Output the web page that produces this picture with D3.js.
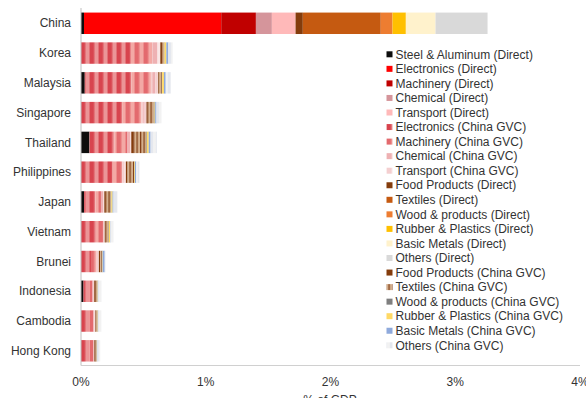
<!DOCTYPE html>
<html><head><meta charset="utf-8">
<script src="https://cdn.jsdelivr.net/npm/d3@7"></script>
<style>
html,body{margin:0;padding:0;background:#fff;}
svg{display:block;font-family:"Liberation Sans",Arial,sans-serif;}
</style></head>
<body><svg id="c" width="586" height="398"></svg>
<script>
// ---------- data (% of GDP) ----------
const categories = ["China","Korea","Malaysia","Singapore","Thailand","Philippines","Japan","Vietnam","Brunei","Indonesia","Cambodia","Hong Kong"];
const xTicks = [0,1,2,3,4];
const seriesNames = [
  "Steel & Aluminum (Direct)","Electronics (Direct)","Machinery (Direct)","Chemical (Direct)","Transport (Direct)",
  "Electronics (China GVC)","Machinery (China GVC)","Chemical (China GVC)","Transport (China GVC)",
  "Food Products (Direct)","Textiles (Direct)","Wood & products (Direct)","Rubber & Plastics (Direct)","Basic Metals (Direct)","Others (Direct)",
  "Food Products (China GVC)","Textiles (China GVC)","Wood & products (China GVC)","Rubber & Plastics (China GVC)","Basic Metals (China GVC)","Others (China GVC)"
];
//                      CN     KR     MY     SG     TH     PH     JP     VN     BN     ID     KH     HK
const steelDirect    = [0.024, 0,     0.030, 0,     0.068, 0,     0.025, 0,     0,     0.020, 0,     0];
const elecDirect     = [1.100, 0,0,0,0,0,0,0,0,0,0,0];
const machDirect     = [0.278, 0,0,0,0,0,0,0,0,0,0,0];
const chemDirect     = [0.128, 0,0,0,0,0,0,0,0,0,0,0];
const transDirect    = [0.190, 0,0,0,0,0,0,0,0,0,0,0];
const elecGVC        = [0,     0.400, 0.375, 0.330, 0.200, 0.250, 0.090, 0.120, 0.080, 0.045, 0.065, 0.068];
const machGVC        = [0,     0.170, 0.155, 0.155, 0.105, 0.080, 0.045, 0.058, 0.045, 0.027, 0.034, 0.031];
const chemGVC        = [0,     0.040, 0.035, 0.025, 0.020, 0.020, 0.017, 0.008, 0.012, 0.009, 0.009, 0.005];
const transGVC       = [0,     0.024, 0.022, 0.015, 0.010, 0.010, 0.010, 0.004, 0.006, 0.005, 0.005, 0.003];
const foodDirect     = [0.058, 0,0,0,0,0,0,0,0,0,0,0];
const textDirect     = [0.625, 0,0,0,0,0,0,0,0,0,0,0];
const woodDirect     = [0.094, 0,0,0,0,0,0,0,0,0,0,0];
const rubberDirect   = [0.107, 0,0,0,0,0,0,0,0,0,0,0];
const metalsDirect   = [0.238, 0,0,0,0,0,0,0,0,0,0,0];
const othersDirect   = [0.417, 0,0,0,0,0,0,0,0,0,0,0];
const foodGVC        = [0,     0.006, 0.006, 0.010, 0.015, 0.010, 0.012, 0.008, 0.010, 0.006, 0.004, 0.008];
const textGVC        = [0,     0.026, 0.024, 0.050, 0.105, 0.055, 0.040, 0.022, 0.015, 0.018, 0.015, 0.010];
const woodGVC        = [0,     0.003, 0.003, 0.005, 0.005, 0.003, 0.004, 0.003, 0.003, 0.002, 0.002, 0.002];
const rubberGVC      = [0,     0.015, 0.015, 0.005, 0.015, 0.005, 0.010, 0.010, 0.003, 0.003, 0.002, 0.002];
const metalsGVC      = [0,     0.016, 0.014, 0.010, 0.015, 0.010, 0.008, 0.003, 0.016, 0.004, 0.003, 0.003];
const othersGVC      = [0,     0.035, 0.040, 0.040, 0.050, 0.025, 0.032, 0.024, 0.008, 0.025, 0.024, 0.022];

const seriesValues = [steelDirect,elecDirect,machDirect,chemDirect,transDirect,
  elecGVC,machGVC,chemGVC,transGVC,
  foodDirect,textDirect,woodDirect,rubberDirect,metalsDirect,othersDirect,
  foodGVC,textGVC,woodGVC,rubberGVC,metalsGVC,othersGVC];

// ---------- styles ----------
const solid = ["#0d0d0d","#ff0000","#c00000","#d5959b","#ffb9b9",
  null,null,null,null,
  "#843c0c","#c55a11","#ed7d31","#ffc000","#fff2cc","#d9d9d9",
  "#843c0c",null,"#7f7f7f","#ffd966","#8faadc",null];
const stripeDefs = {
  5:  {w:9, stops:[[0,"#d8444e"],[0.35,"#d8444e"],[0.6,"#eb9597"],[0.9,"#eb9597"],[1,"#d8444e"]]},
  6:  {w:9, stops:[[0,"#e36a6e"],[0.35,"#e36a6e"],[0.6,"#f3a9a5"],[0.9,"#f3a9a5"],[1,"#e36a6e"]]},
  7:  {w:9, stops:[[0,"#eeb1b3"],[0.4,"#eeb1b3"],[0.6,"#f6cfcf"],[0.9,"#f6cfcf"],[1,"#eeb1b3"]]},
  8:  {w:9, stops:[[0,"#f4cfd0"],[0.4,"#f4cfd0"],[0.6,"#fae6e6"],[0.9,"#fae6e6"],[1,"#f4cfd0"]]},
  16: {w:3.5, stops:[[0,"#7f3b12"],[0.25,"#7f3b12"],[0.45,"#d4b08e"],[0.9,"#d4b08e"],[1,"#7f3b12"]]},
  20: {w:6, stops:[[0,"#e4e7ee"],[0.4,"#e4e7ee"],[0.6,"#f2f2f2"],[0.9,"#f2f2f2"],[1,"#e4e7ee"]]}
};

const svg = d3.select("#c");
const defs = svg.append("defs");
Object.entries(stripeDefs).forEach(([i,s])=>{
  const g = defs.append("linearGradient").attr("id","g"+i)
    .attr("x1","0").attr("x2","1").attr("y1","0").attr("y2","0");
  s.stops.forEach(([o,c])=>g.append("stop").attr("offset",o).attr("stop-color",c));
  const p = defs.append("pattern").attr("id","p"+i).attr("patternUnits","userSpaceOnUse")
    .attr("width",s.w).attr("height",10);
  p.append("rect").attr("width",s.w).attr("height",10).attr("fill",`url(#g${i})`);
});
const fillOf = i => solid[i] ? solid[i] : `url(#p${i})`;

// ---------- scales ----------
const x = d3.scaleLinear().domain([0,4]).range([81,580]);
const y = d3.scaleBand().domain(categories).range([8.4,365.7]).paddingInner(0.28).paddingOuter(0.14);

const table = categories.map((c,ci)=>{
  const o = {cat:c};
  seriesNames.forEach((n,si)=>o[n]=seriesValues[si][ci]);
  return o;
});
const stacked = d3.stack().keys(seriesNames)(table);

svg.append("g").selectAll("g").data(stacked).join("g")
  .attr("fill",(d,i)=>fillOf(i))
  .selectAll("rect").data(d=>d).join("rect")
  .attr("x",d=>x(d[0])).attr("width",d=>Math.max(0,x(d[1])-x(d[0])))
  .attr("y",d=>y(d.data.cat)).attr("height",y.bandwidth());

// axes
svg.append("line").attr("x1",x(0)).attr("x2",x(0)).attr("y1",8).attr("y2",365.5)
  .attr("stroke","#bfbfbf").attr("stroke-width",1);
svg.append("line").attr("x1",x(0)).attr("x2",x(4)).attr("y1",365.5).attr("y2",365.5)
  .attr("stroke","#d0d0d0").attr("stroke-width",1);

svg.append("g").selectAll("text").data(categories).join("text")
  .attr("x",71).attr("y",d=>y(d)+y.bandwidth()/2).attr("dy","0.35em")
  .attr("text-anchor","end").attr("font-size",12).attr("fill","#333").text(d=>d);

svg.append("g").selectAll("text").data(xTicks).join("text")
  .attr("x",d=>x(d)).attr("y",386).attr("text-anchor","middle")
  .attr("font-size",12).attr("fill","#333").text(d=>d+"%");

svg.append("text").attr("x",330).attr("y",404).attr("text-anchor","middle")
  .attr("font-size",12).attr("fill","#333").text("%  of GDP");

// legend
const lg = svg.append("g");
seriesNames.forEach((n,i)=>{
  const cy = 54.3 + i*14.55;
  lg.append("rect").attr("x",386.5).attr("y",cy-3).attr("width",6).attr("height",6).attr("fill",fillOf(i));
  lg.append("text").attr("x",395.5).attr("y",cy).attr("dy","0.35em")
    .attr("font-size",12).attr("fill","#333").text(n);
});
</script></body></html>
